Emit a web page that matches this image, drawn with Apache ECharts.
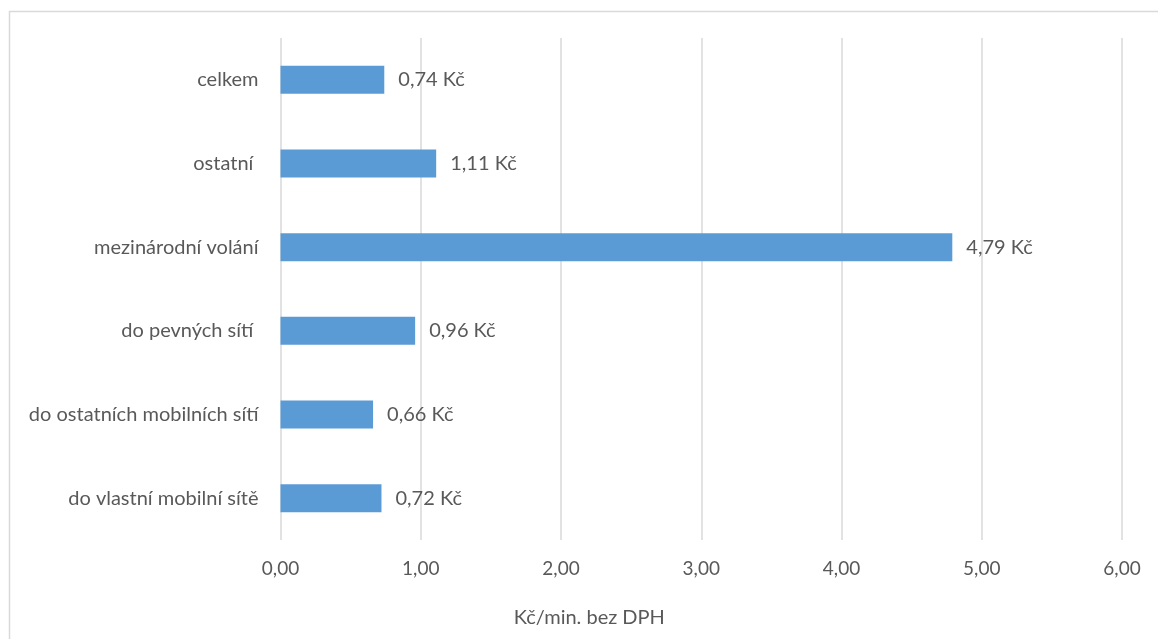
<!DOCTYPE html>
<html>
<head>
<meta charset="utf-8">
<script src="https://cdn.jsdelivr.net/npm/echarts@6/dist/echarts.min.js"></script>
<style>
html,body{margin:0;padding:0;background:#fff;}
#chart{width:1158px;height:639px;}
</style>
</head>
<body>
<div id="chart"></div>
<script>
const categories = ['celkem', 'ostatní ', 'mezinárodní volání', 'do pevných sítí ', 'do ostatních mobilních sítí', 'do vlastní mobilní sítě'];
const values = [0.74, 1.11, 4.79, 0.96, 0.66, 0.72];
const xTicks = [0, 1, 2, 3, 4, 5, 6];
const axisTitle = 'Kč/min. bez DPH';

const fmt = v => v.toFixed(2).replace('.', ',');
const FONT = 'Lato';
const TXT = '#595959';

const chart = echarts.init(document.getElementById('chart'), null, {renderer: 'canvas'});
chart.setOption({
  backgroundColor: '#ffffff',
  animation: false,
  textStyle: {fontFamily: FONT, color: TXT},
  graphic: [{
    type: 'rect', silent: true, z: -1,
    shape: {x: 9.5, y: 11.5, width: 1170, height: 650},
    style: {fill: 'none', stroke: '#d9d9d9', lineWidth: 1.5}
  }],
  grid: {left: 280.5, right: 36, top: 38, bottom: 99, containLabel: false},
  xAxis: {
    type: 'value',
    min: xTicks[0], max: xTicks[xTicks.length - 1], interval: 1,
    axisLine: {show: false}, axisTick: {show: false},
    splitLine: {show: true, lineStyle: {color: '#d9d9d9', width: 1.5}},
    axisLabel: {formatter: v => fmt(v), color: TXT, fontFamily: FONT, fontSize: 19, margin: 19},
    name: axisTitle,
    nameLocation: 'middle',
    nameGap: 68,
    nameTextStyle: {color: TXT, fontFamily: FONT, fontSize: 20, padding: [0, 224, 0, 0]}
  },
  yAxis: {
    type: 'category',
    data: categories,
    inverse: true,
    axisLine: {show: false}, axisTick: {show: false},
    axisLabel: {color: TXT, fontFamily: FONT, fontSize: 20, margin: 22}
  },
  series: [{
    type: 'bar',
    data: values,
    barWidth: 28,
    itemStyle: {color: '#5b9bd5'},
    label: {
      show: true, position: 'right', distance: 14,
      formatter: p => fmt(p.value) + ' Kč',
      color: TXT, fontFamily: FONT, fontSize: 20
    }
  }]
});
</script>
</body>
</html>
